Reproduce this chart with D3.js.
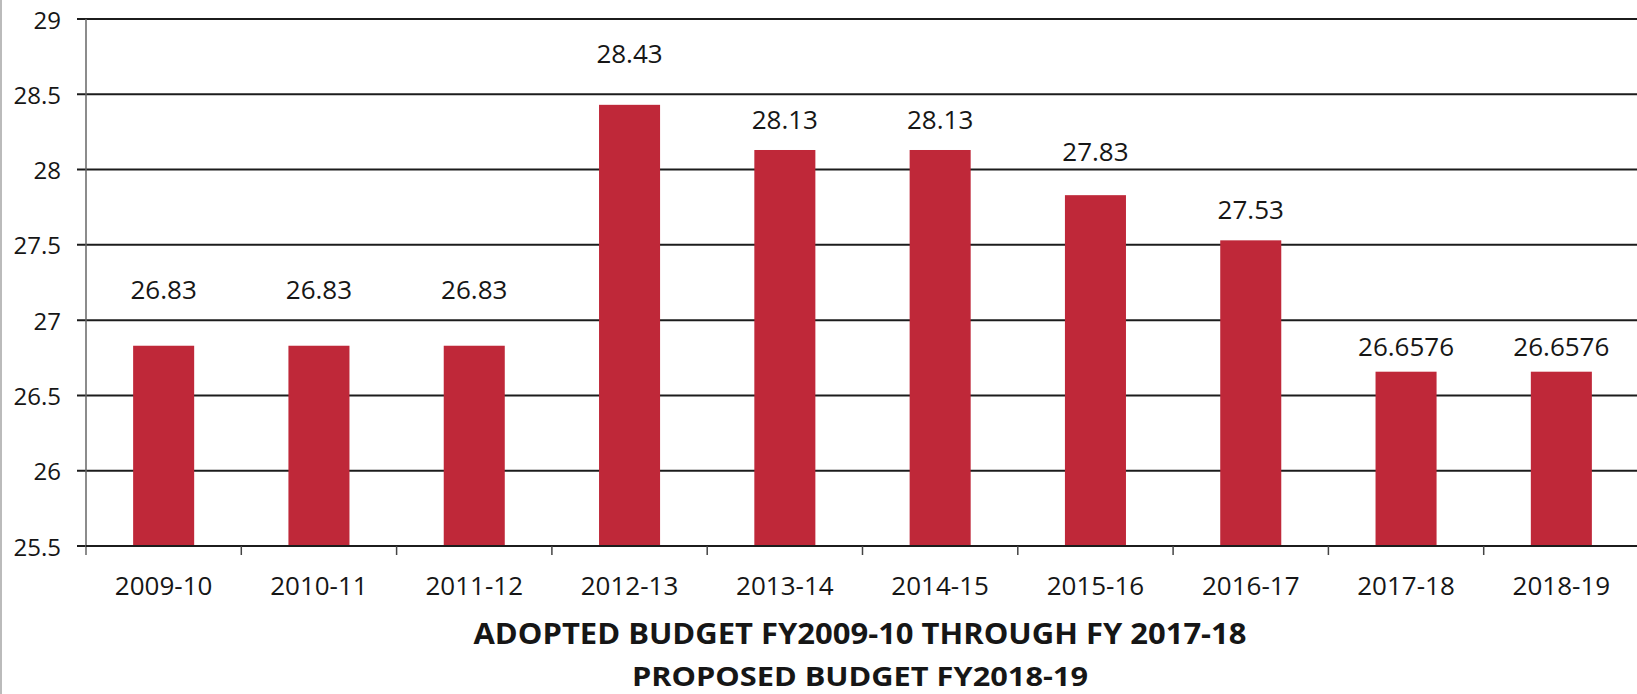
<!DOCTYPE html>
<html>
<head>
<meta charset="utf-8">
<script src="https://cdn.jsdelivr.net/npm/d3@7/dist/d3.min.js"></script>
<style>
  html, body { margin: 0; padding: 0; background: #fff; }
  svg { display: block; }
  text { font-family: "Open Sans", "DejaVu Sans", sans-serif; fill: #161616; }
</style>
</head>
<body>
<svg id="chart" width="1637" height="694"></svg>
<script>
// ---- data ----
const categories = ["2009-10", "2010-11", "2011-12", "2012-13", "2013-14", "2014-15", "2015-16", "2016-17", "2017-18", "2018-19"];
const values = [26.83, 26.83, 26.83, 28.43, 28.13, 28.13, 27.83, 27.53, 26.6576, 26.6576];
const valueLabels = ["26.83", "26.83", "26.83", "28.43", "28.13", "28.13", "27.83", "27.53", "26.6576", "26.6576"];
const yTicks = [25.5, 26, 26.5, 27, 27.5, 28, 28.5, 29];
const titleLines = ["ADOPTED BUDGET FY2009-10 THROUGH FY 2017-18", "PROPOSED BUDGET FY2018-19"];

(function () {
// ---- layout ----
const svg = d3.select("#chart");
const plotLeft = 86, plotRight = 1639, plotTop = 19, plotBottom = 546;
// label distance above bar top (as placed in the original)
const labelGap = [57, 57, 57, 52, 31, 31, 44, 31, 26, 26];

const x = d3.scaleBand().domain(categories).range([plotLeft, plotRight])
  .paddingInner(0.607).paddingOuter(0.3035);
const y = d3.scaleLinear().domain([25.5, 29]).range([plotBottom, plotTop]);

// page edge line
svg.append("line").attr("x1", 1).attr("x2", 1).attr("y1", 0).attr("y2", 694)
  .attr("stroke", "#bbb").attr("stroke-width", 2);

// gridlines
svg.append("g").selectAll("line").data(yTicks).join("line")
  .attr("x1", plotLeft - 9).attr("x2", plotRight)
  .attr("y1", d => y(d)).attr("y2", d => y(d))
  .attr("stroke", "#1c1c1c").attr("stroke-width", 2);

// y tick labels
svg.append("g").selectAll("text").data(yTicks).join("text")
  .attr("x", 61).attr("y", d => y(d))
  .attr("text-anchor", "end").attr("dominant-baseline", "central")
  .style("font-size", "24px")
  .text(d => d3.format("")(d));

// y axis line
svg.append("line").attr("x1", plotLeft).attr("x2", plotLeft).attr("y1", plotTop).attr("y2", plotBottom + 9)
  .attr("stroke", "#666").attr("stroke-width", 1.5);

// bars
svg.append("g").selectAll("rect").data(values).join("rect")
  .attr("x", (d, i) => x(categories[i]))
  .attr("width", x.bandwidth())
  .attr("y", d => y(d))
  .attr("height", d => y(25.5) - y(d))
  .attr("fill", "#BF2839");

// x axis line
svg.append("line").attr("x1", plotLeft).attr("x2", plotRight).attr("y1", plotBottom).attr("y2", plotBottom)
  .attr("stroke", "#1c1c1c").attr("stroke-width", 2);

// category boundary ticks
const boundaries = categories.map(c => x(c) + x.bandwidth() / 2 + x.step() / 2).slice(0, -1);
svg.append("g").selectAll("line").data(boundaries).join("line")
  .attr("x1", d => d).attr("x2", d => d)
  .attr("y1", plotBottom).attr("y2", plotBottom + 9)
  .attr("stroke", "#444").attr("stroke-width", 1.5);

// x tick labels
svg.append("g").selectAll("text").data(categories).join("text")
  .attr("x", d => x(d) + x.bandwidth() / 2)
  .attr("y", 585)
  .attr("text-anchor", "middle").attr("dominant-baseline", "central")
  .style("font-size", "26px")
  .text(d => d);

// data labels
svg.append("g").selectAll("text").data(values).join("text")
  .attr("x", (d, i) => x(categories[i]) + x.bandwidth() / 2)
  .attr("y", (d, i) => y(d) - labelGap[i])
  .attr("text-anchor", "middle").attr("dominant-baseline", "central")
  .style("font-size", "26px")
  .text((d, i) => valueLabels[i]);

// title
const titleY = [633, 675];
const titleW = [773, 456];
const titleSize = [28, 27];
svg.append("g").selectAll("text").data(titleLines).join("text")
  .attr("x", 860).attr("y", (d, i) => titleY[i])
  .attr("text-anchor", "middle").attr("dominant-baseline", "central")
  .attr("textLength", (d, i) => titleW[i]).attr("lengthAdjust", "spacingAndGlyphs")
  .style("font-size", (d, i) => titleSize[i] + "px").style("font-weight", "700")
  .text(d => d);
})();
</script>
</body>
</html>
